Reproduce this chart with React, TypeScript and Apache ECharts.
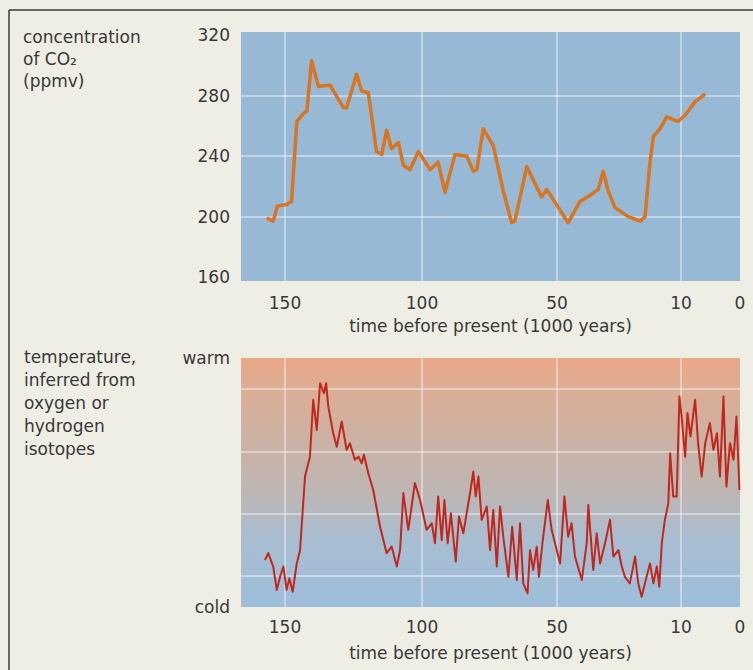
import React, { useEffect, useRef } from "react";
import * as echarts from "echarts";

// x scale of the original figure (non-linear time axis): tick times and their axis positions
const TICK_TIMES = [150, 100, 50, 10, 0];
const TICK_POS = [44, 181, 316, 440, 499];
const AXIS_SPAN = 499;

const CO2_TICKS = [160, 200, 240, 280, 320];
const CO2_GRID = [200, 240, 280];
const TEMP_GRID = [1, 3, 5, 7];
const TEMP_LABELS = ["cold", "warm"];

// CO2 (ppmv) vs time before present (kyr)
const co2Time = [156.7, 154.3, 152.8, 149.4, 147.6, 145.7, 143.3, 142, 140.3, 137.8, 133.6, 128.7, 127.5, 123.9, 122, 119.6, 116.6, 114.7, 112.9, 111.1, 108.6, 106.8, 104.4, 101.3, 97, 94, 91.5, 87.8, 83.4, 81, 79.7, 77.3, 73.6, 69.9, 66.8, 65.6, 61.2, 55.7, 53.8, 46.4, 42.6, 39.4, 36.7, 35.1, 33.5, 31.3, 27, 23.2, 21.6, 20, 18.9, 16.8, 14.6, 13.5, 10.9, 9.3, 7.6, 5.9];
const co2Value = [199, 197, 207, 208, 210, 263, 268, 270, 303, 286, 287, 272, 272, 294, 283, 282, 243, 241, 257, 245, 249, 234, 231, 243, 231, 236, 216, 241, 240, 230, 231, 258, 247, 217, 196, 197, 233, 213, 218, 196, 210, 214, 218, 230, 217, 206, 200, 197, 200, 236, 253, 258, 266, 265, 263, 267, 276, 281];

// temperature (relative units, 0 = cold .. 8 = warm)
const tempTime = [157.3, 156.1, 154.3, 153, 151.8, 150.6, 149.4, 148.4, 147.2, 145.7, 144.5, 142.7, 140.9, 139.7, 138.4, 137.2, 135.8, 135, 134.2, 132.4, 131.1, 129.3, 127.5, 126.3, 124.5, 123.2, 122, 121.2, 119.6, 117.8, 115.3, 112.9, 111.1, 109.2, 108, 106.8, 105, 102.6, 100.7, 98.3, 96.4, 95.2, 94, 92.7, 91.7, 90.5, 89.3, 87.5, 86.3, 84.7, 82.2, 81, 80.1, 79.1, 77.9, 76, 74.8, 73.6, 72.3, 71.1, 69.9, 68, 66.6, 64.9, 63.7, 62.5, 60.9, 60, 58.8, 57.5, 56.7, 55.4, 53.4, 52, 50.1, 49, 47.6, 46.4, 45.3, 44.2, 42, 40.4, 39.9, 38.3, 37.2, 36.1, 34.5, 32.9, 31.8, 30.2, 29.1, 28.1, 26.5, 24.8, 23.8, 22.7, 21.1, 20, 18.9, 17.8, 17, 16.2, 15.2, 14.1, 13.5, 12.5, 11.4, 10.5, 9.9, 9.3, 8.9, 8.4, 7.6, 7.1, 6.5, 5.9, 5.1, 4.5, 3.9, 3.4, 2.8, 2.3, 1.7, 1.1, 0.6, 0.1];
const tempValue = [1.51, 1.73, 1.3, 0.55, 0.97, 1.3, 0.55, 0.92, 0.49, 1.4, 1.83, 4.19, 4.83, 6.66, 5.69, 7.19, 6.87, 7.19, 6.44, 5.58, 5.15, 5.96, 5.05, 5.26, 4.73, 4.83, 4.62, 4.89, 4.3, 3.76, 2.58, 1.73, 1.94, 1.3, 1.83, 3.66, 2.48, 3.98, 3.44, 2.48, 2.69, 2.05, 3.55, 2.15, 3.44, 2.05, 3.01, 1.46, 2.91, 2.37, 3.66, 4.35, 3.55, 4.19, 2.8, 3.23, 1.83, 3.12, 1.3, 3.23, 2.26, 0.97, 2.58, 0.87, 2.69, 0.76, 0.44, 1.83, 1.19, 1.94, 0.97, 2.05, 3.44, 2.48, 1.83, 1.4, 3.55, 2.26, 2.69, 1.62, 0.87, 2.05, 3.28, 1.19, 2.37, 1.4, 2.05, 2.8, 1.62, 1.83, 1.3, 0.97, 0.76, 1.62, 0.76, 0.33, 0.97, 1.4, 0.76, 1.3, 0.65, 2.05, 2.8, 3.33, 4.94, 3.55, 3.55, 6.76, 6.12, 4.83, 6.23, 5.48, 6.66, 5.26, 4.19, 5.26, 5.91, 5.05, 5.58, 4.19, 6.76, 3.87, 5.26, 4.73, 6.12, 3.76];

function timeToPos(t: number): number {
  const n = TICK_TIMES.length;
  if (t >= TICK_TIMES[0]) {
    const slope = (TICK_POS[1] - TICK_POS[0]) / (TICK_TIMES[0] - TICK_TIMES[1]);
    return TICK_POS[0] - (t - TICK_TIMES[0]) * slope;
  }
  for (let i = 0; i < n - 1; i++) {
    const a = TICK_TIMES[i];
    const b = TICK_TIMES[i + 1];
    if (t <= a && t >= b) {
      return TICK_POS[i] + ((a - t) / (a - b)) * (TICK_POS[i + 1] - TICK_POS[i]);
    }
  }
  return TICK_POS[n - 1];
}

function posToLabel(p: number): string {
  let best = 0;
  for (let i = 1; i < TICK_POS.length; i++) {
    if (Math.abs(TICK_POS[i] - p) < Math.abs(TICK_POS[best] - p)) best = i;
  }
  return String(TICK_TIMES[best]);
}

const FONT = "DejaVu Sans";
const TEXT = "#383838";
const GRIDLINE = "rgba(255,255,255,0.4)";

export default function App() {
  const ref = useRef<HTMLDivElement>(null);
  useEffect(() => {
    if (!ref.current) return;
    const chart = echarts.init(ref.current, undefined, { renderer: "svg" });
    const vGrid = TICK_TIMES.filter((t) => t > 0).map((t) => ({ xAxis: timeToPos(t) }));
    const xAxisBase = (gridIndex: number, labelMargin: number, nameGap: number) => ({
      type: "value",
      gridIndex,
      min: 0,
      max: AXIS_SPAN,
      axisLine: { show: false },
      axisTick: { show: false },
      splitLine: { show: false },
      axisLabel: {
        customValues: TICK_POS,
        formatter: (v: number) => posToLabel(v),
        fontSize: 17,
        fontFamily: FONT,
        color: TEXT,
        margin: labelMargin,
      },
      name: "time before present (1000 years)",
      nameLocation: "middle",
      nameGap,
      nameTextStyle: { fontSize: 17, fontFamily: FONT, color: TEXT },
    });
    const option: any = {
      animation: false,
      backgroundColor: "#efeee5",
      grid: [
        { left: 241, top: 32, width: AXIS_SPAN, height: 249, show: true, backgroundColor: "#98b9d6", borderWidth: 0 },
        {
          left: 241,
          top: 358,
          width: AXIS_SPAN,
          height: 249,
          show: true,
          borderWidth: 0,
          backgroundColor: new echarts.graphic.LinearGradient(0, 0, 0, 1, [
            { offset: 0, color: "#eaa788" },
            { offset: 0.12, color: "#dcad95" },
            { offset: 0.33, color: "#cbb2a4" },
            { offset: 0.55, color: "#bdb6b5" },
            { offset: 0.72, color: "#a9bdd0" },
            { offset: 1, color: "#9dbedb" },
          ]),
        },
      ],
      xAxis: [xAxisBase(0, 13, 36), xAxisBase(1, 11, 37)],
      yAxis: [
        {
          type: "value",
          gridIndex: 0,
          min: 157.5,
          max: 322,
          axisLine: { show: false },
          axisTick: { show: false },
          splitLine: { show: false },
          axisLabel: { customValues: CO2_TICKS, fontSize: 17, fontFamily: FONT, color: TEXT, margin: 11 },
        },
        {
          type: "value",
          gridIndex: 1,
          min: 0,
          max: 8,
          axisLine: { show: false },
          axisTick: { show: false },
          splitLine: { show: false },
          axisLabel: {
            customValues: [0, 8],
            formatter: (v: number) => (v < 4 ? TEMP_LABELS[0] : TEMP_LABELS[1]),
            fontSize: 17,
            fontFamily: FONT,
            color: TEXT,
            margin: 11,
          },
        },
      ],
      series: [
        {
          type: "line",
          xAxisIndex: 0,
          yAxisIndex: 0,
          data: co2Time.map((t, i) => [timeToPos(t), co2Value[i]]),
          symbol: "none",
          lineStyle: { color: "#d8751e", width: 3.5, join: "round" },
          z: 3,
          markLine: {
            silent: true,
            z: 1,
            symbol: ["none", "none"],
            label: { show: false },
            lineStyle: { color: GRIDLINE, width: 2, type: "solid" },
            data: [...CO2_GRID.map((v) => ({ yAxis: v })), ...vGrid],
          },
        },
        {
          type: "line",
          xAxisIndex: 1,
          yAxisIndex: 1,
          data: tempTime.map((t, i) => [timeToPos(t), tempValue[i]]),
          symbol: "none",
          lineStyle: { color: "#c0281e", width: 2, join: "round" },
          z: 3,
          markLine: {
            silent: true,
            z: 1,
            symbol: ["none", "none"],
            label: { show: false },
            lineStyle: { color: GRIDLINE, width: 2, type: "solid" },
            data: [...TEMP_GRID.map((v) => ({ yAxis: v })), ...vGrid],
          },
        },
      ],
      graphic: [
        { type: "line", shape: { x1: 9, y1: 10, x2: 753, y2: 10 }, style: { stroke: "#3a3a3a", lineWidth: 1.5 } },
        { type: "line", shape: { x1: 9, y1: 10, x2: 9, y2: 670 }, style: { stroke: "#3a3a3a", lineWidth: 1.5 } },
        {
          type: "text",
          left: 23,
          top: 26,
          style: { text: "concentration\nof CO₂\n(ppmv)", fontSize: 17, lineHeight: 22, fill: TEXT, fontFamily: FONT },
        },
        {
          type: "text",
          left: 24,
          top: 345,
          style: {
            text: "temperature,\ninferred from\noxygen or\nhydrogen\nisotopes",
            fontSize: 17,
            lineHeight: 23,
            fill: TEXT,
            fontFamily: FONT,
          },
        },
      ],
    };
    chart.setOption(option);
    return () => chart.dispose();
  }, []);
  return (
    <div
      ref={ref}
      style={{ position: "fixed", left: 0, top: 0, width: 753, height: 670, background: "#efeee5" }}
    />
  );
}
